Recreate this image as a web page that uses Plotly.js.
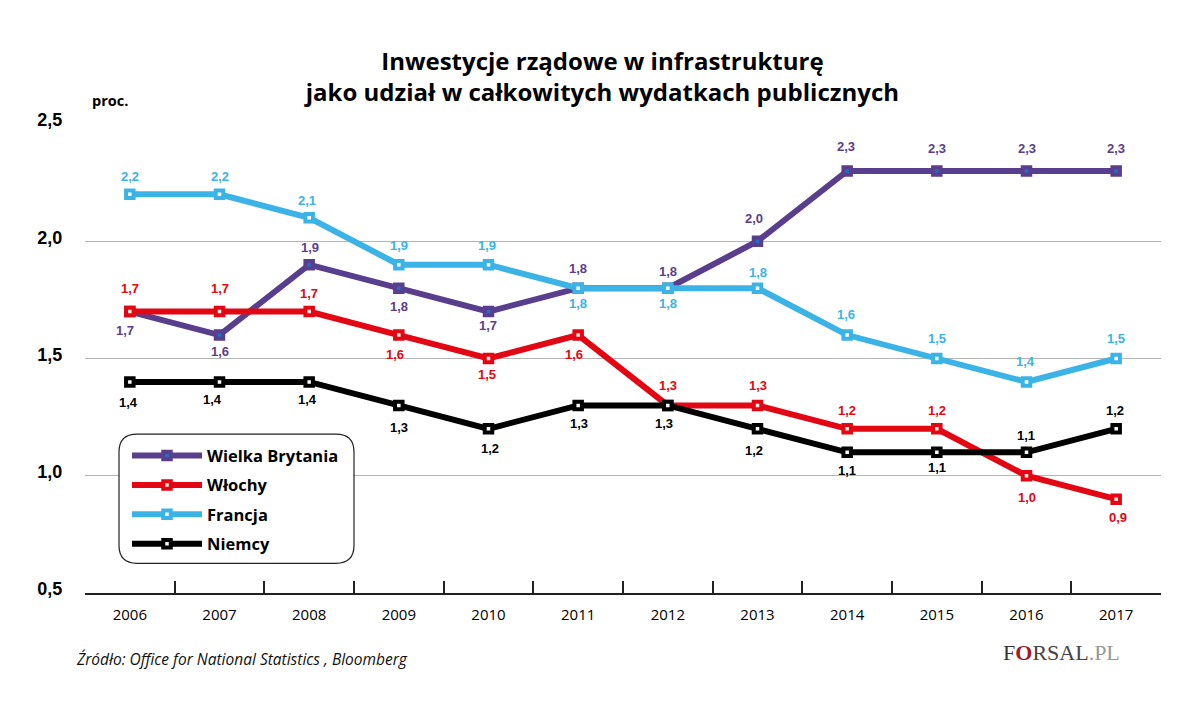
<!DOCTYPE html>
<html><head><meta charset="utf-8">
<script src="https://cdn.plot.ly/plotly-3.0.1.min.js"></script>
<style>html,body{margin:0;padding:0;background:#fff}</style></head>
<body><div id="chart" style="width:1200px;height:711px"></div>
<script>
const years = ['2006','2007','2008','2009','2010','2011','2012','2013','2014','2015','2016','2017'];
const ukValues = [1.7,1.6,1.9,1.8,1.7,1.8,1.8,2.0,2.3,2.3,2.3,2.3];
const itValues = [1.7,1.7,1.7,1.6,1.5,1.6,1.3,1.3,1.2,1.2,1.0,0.9];
const frValues = [2.2,2.2,2.1,1.9,1.9,1.8,1.8,1.8,1.6,1.5,1.4,1.5];
const deValues = [1.4,1.4,1.4,1.3,1.2,1.3,1.3,1.2,1.1,1.1,1.1,1.2];
const seriesNames = ['Wielka Brytania','Włochy','Francja','Niemcy'];
const seriesColors = ['#5a3e8e','#e30613','#3bb3e6','#000000'];
const markerCores = ['#1f6fc4','#fbeee0','#ffffff','#ffffff'];
// label offsets from each point, in pixels
const ukDx = [-5,0,1,0,-1,0,0,-4,-1,0,0,0];
const ukDy = [19,16,-17,18,14,-20,-17,-23,-24,-22,-22,-22];
const itDx = [0,0,0,-4,-2,-4,0,0,0,0,0,2];
const itDy = [-23,-23,-18,19,16,19,-20,-20,-18,-18,22,18];
const frDx = [0,0,-2,0,-2,0,0,0,-1,0,-1,0];
const frDy = [-18,-18,-17,-19,-19,15,15,-16,-21,-20,-20,-20];
const deDx = [-1,-7,-2,0,1,1,-4,-4,0,0,-1,-1];
const deDy = [21,18,18,22,20,18,18,22,18,15,-17,-18];
const fmt = v => v.toFixed(1).replace('.',',');
const vals=[ukValues,itValues,frValues,deValues], dxs=[ukDx,itDx,frDx,deDx], dys=[ukDy,itDy,frDy,deDy];
const traces = seriesNames.map((n,i)=>({
  type:'scatter', mode:'lines+markers', name:n, x:years, y:vals[i],
  legendgroup:n,
  line:{color:seriesColors[i],width:6},
  marker:{symbol:'square',size:7.5,color:markerCores[i],line:{color:seriesColors[i],width:4}},
  cliponaxis:false, hoverinfo:'skip'
}));
const xAt = px => (px-85)/(1161-85);
const yAt = px => 1-(px-124)/(592.7-124);
const labelAnnotations = [];
vals.forEach((arr,i)=>arr.forEach((v,j)=>labelAnnotations.push({
  x:j,y:v,xref:'x',yref:'y',text:fmt(v),showarrow:false,xanchor:'center',yanchor:'middle',
  xshift:dxs[i][j],yshift:-dys[i][j],
  font:{family:'"Liberation Sans",Arial,sans-serif',size:13,color:seriesColors[i],weight:700}
})));
const frame = (()=>{const a=xAt(119),b=yAt(434),c=xAt(354),d=yAt(563),rx=18/1076,ry=18/468.7;
  return `M${a+rx},${b} L${c-rx},${b} Q${c},${b} ${c},${b-ry} L${c},${d+ry} Q${c},${d} ${c-rx},${d} L${a+rx},${d} Q${a},${d} ${a},${d+ry} L${a},${b-ry} Q${a},${b} ${a+rx},${b} Z`;})();
const layout = {
  width:1200,height:711,paper_bgcolor:'#fff',plot_bgcolor:'#fff',
  margin:{l:85,r:39,t:124,b:118},
  separators:', ',
  title:{text:'Inwestycje rządowe w infrastrukturę<br>jako udział w całkowitych wydatkach publicznych',
    font:{family:'"Open Sans",sans-serif',size:24,color:'#000',weight:700},
    x:0.502,xanchor:'center',y:0.902,yanchor:'top',pad:{t:0}},
  showlegend:true,
  legend:{x:xAt(127),y:yAt(438),yanchor:'top',xanchor:'left',bgcolor:'rgba(0,0,0,0)',borderwidth:0,
    font:{family:'"Open Sans",sans-serif',size:16.5,color:'#000',weight:700},
    itemwidth:70,tracegroupgap:5,traceorder:'grouped',itemclick:false,itemdoubleclick:false},
  xaxis:{type:'category',range:[-0.5,11.5],tickson:'boundaries',ticks:'inside',ticklen:12,tickwidth:1.5,tickcolor:'#222',
    showline:true,linecolor:'#222',linewidth:1.5,showgrid:false,zeroline:false,fixedrange:true,
    ticklabelstandoff:7,
    tickvals:years,ticktext:years,
    tickfont:{family:'"Open Sans",sans-serif',size:15,color:'#000'}},
  yaxis:{range:[0.5,2.5],tickvals:[0.5,1,1.5,2,2.5],tickformat:'.1f',showgrid:true,gridcolor:'#b5b5b5',gridwidth:1,
    zeroline:false,showline:false,ticks:'outside',ticklen:18,tickcolor:'rgba(0,0,0,0)',fixedrange:true,
    ticklabelshift:-4,
    tickfont:{family:'"Liberation Sans",Arial,sans-serif',size:18,color:'#000',weight:700}},
  shapes:[{type:'path',layer:'above',xref:'paper',yref:'paper',path:frame,fillcolor:'#fff',line:{color:'#222',width:1.2}}],
  annotations:labelAnnotations.concat([
    {xref:'paper',yref:'paper',x:xAt(110),y:yAt(101),xanchor:'center',yanchor:'middle',showarrow:false,text:'<b>proc.</b>',
      font:{family:'"Open Sans",sans-serif',size:14.5,color:'#000'}},
    {xref:'paper',yref:'paper',x:xAt(74),y:yAt(659),xanchor:'left',yanchor:'middle',showarrow:false,text:'<i>Źródło: Office for National Statistics , Bloomberg</i>',
      font:{family:'"Open Sans",sans-serif',size:15.5,color:'#111'}},
    {xref:'paper',yref:'paper',x:xAt(1122),y:yAt(652),xanchor:'right',yanchor:'middle',showarrow:false,
      text:'<span style="color:#333">F</span><span style="color:#a11d25"><b>O</b></span><span style="color:#444">RSAL</span><span style="color:#999">.PL</span>',
      font:{family:'"Liberation Serif",serif',size:22,color:'#444'}}
  ])
};
Plotly.newPlot('chart',traces,layout,{displayModeBar:false});
</script></body></html>
